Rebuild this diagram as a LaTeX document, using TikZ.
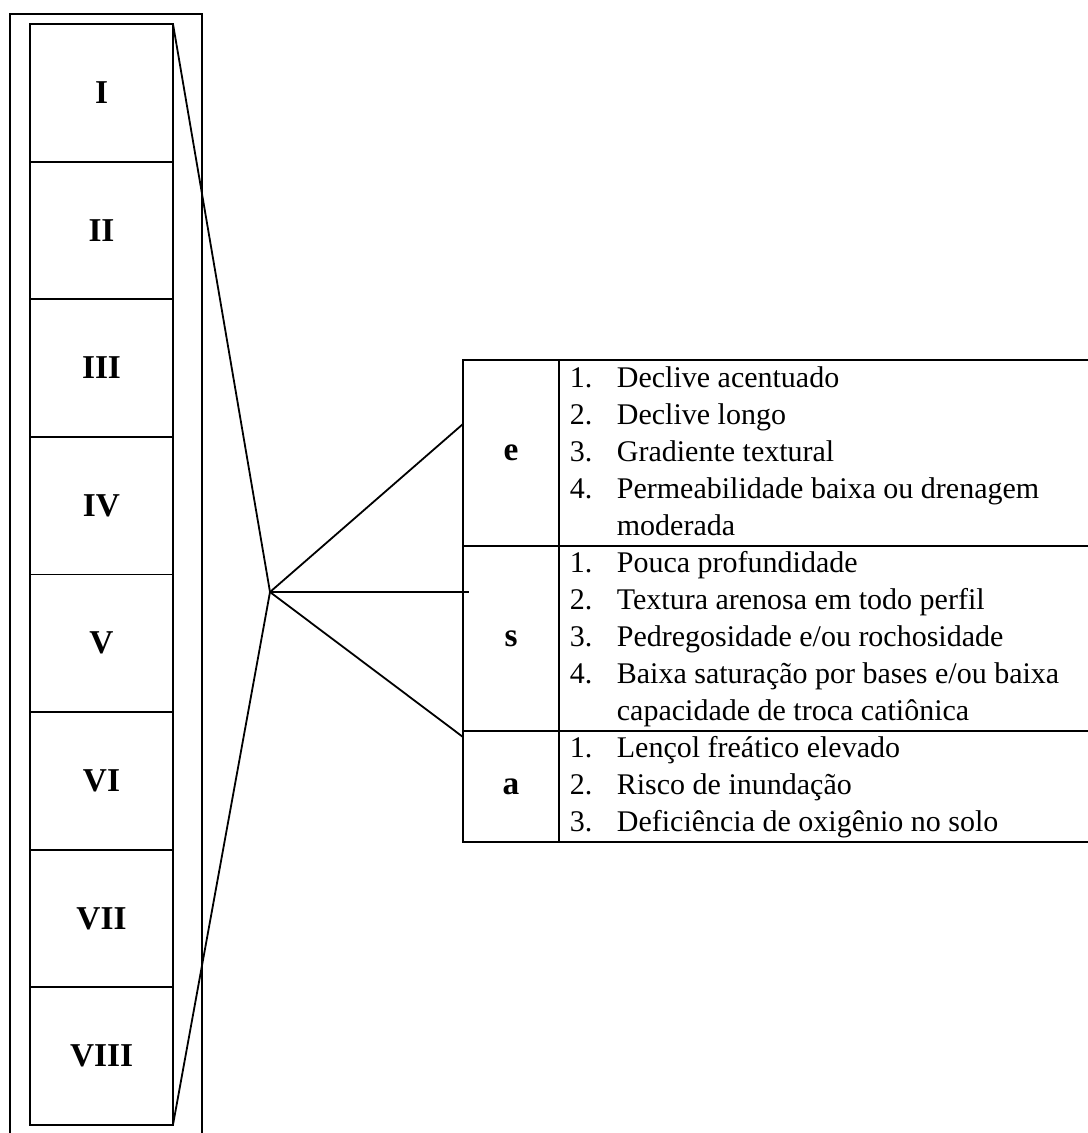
\documentclass[tikz,border=0pt]{standalone}
\usepackage{fontspec}
\setmainfont{Liberation Serif}
\usetikzlibrary{calc}

\begin{document}
\begin{tikzpicture}
        [x=0.75pt,y=-0.75pt,line width=1.35pt]
            \tikzstyle{classbox}=[draw, inner sep=0pt, outer sep=0pt, minimum width=107.25pt,
        minimum height=103.2pt, font=\fontsize{25}{30}\selectfont\bfseries]
            \tikzstyle{lettercell}=[draw, inner sep=0pt, outer sep=0pt, minimum width=72pt,
        font=\fontsize{25}{30}\selectfont\bfseries]
            \tikzstyle{itemlist}=[anchor=west, inner sep=0pt,
        font=\fontsize{22.5}{27.75}\selectfont]
        \useasboundingbox (0,0) rectangle (1088,1133);
        %-----classes
         \draw (10,1133) -- (10,14) -- (202,14) -- (202,1133);
         \foreach \num/\lab in {1/I,2/II,3/III,4/IV,5/V,6/VI,7/VII,8/VIII}
         \node[classbox] (c\num) at (101.5,{24+137.6*(\num-0.5)}) {\lab};

        %-----subclasses
         \node[lettercell, minimum height=139.5pt] (le) at (511,453) {e};
         \node[lettercell, minimum height=138.75pt] (ls) at (511,638.5) {s};
         \node[lettercell, minimum height=83.25pt] (la) at (511,786.5) {a};

         \draw (le.north west) -- (1088,360);
         \draw (ls.north west) -- (1088,546);
         \draw (la.north west) -- (1088,731);
         \draw (la.south west) -- (1088,842);

         \node[itemlist] (te) at (569,454) {\begin{tabular}{@{}p{35.25pt}@{}l@{}}
            1. & Declive acentuado\\
            2. & Declive longo\\
            3. & Gradiente textural\\
            4. & Permeabilidade baixa ou drenagem\\
               & moderada
         \end{tabular}};
         \node[itemlist] (ts) at (569,639) {\begin{tabular}{@{}p{35.25pt}@{}l@{}}
            1. & Pouca profundidade\\
            2. & Textura arenosa em todo perfil\\
            3. & Pedregosidade e/ou rochosidade\\
            4. & Baixa saturação por bases e/ou baixa\\
               & capacidade de troca catiônica
         \end{tabular}};
         \node[itemlist] (ta) at (569,787) {\begin{tabular}{@{}p{35.25pt}@{}l@{}}
            1. & Lençol freático elevado\\
            2. & Risco de inundação\\
            3. & Deficiência de oxigênio no solo
         \end{tabular}};

        %-----connectors
         \coordinate (hub) at (270,592);
         \coordinate (eEnd) at ($(le.north west)!0.344!(le.south west)$);
         \coordinate (sEnd) at (469,592);
         \coordinate (aEnd) at ($(la.north west)+(0,6)$);

         \draw (c1.north east) -- (hub) -- (c8.south east);
         \foreach \to in {eEnd,sEnd,aEnd}
         \draw (hub) -- (\to);
        \end{tikzpicture}
\end{document}
